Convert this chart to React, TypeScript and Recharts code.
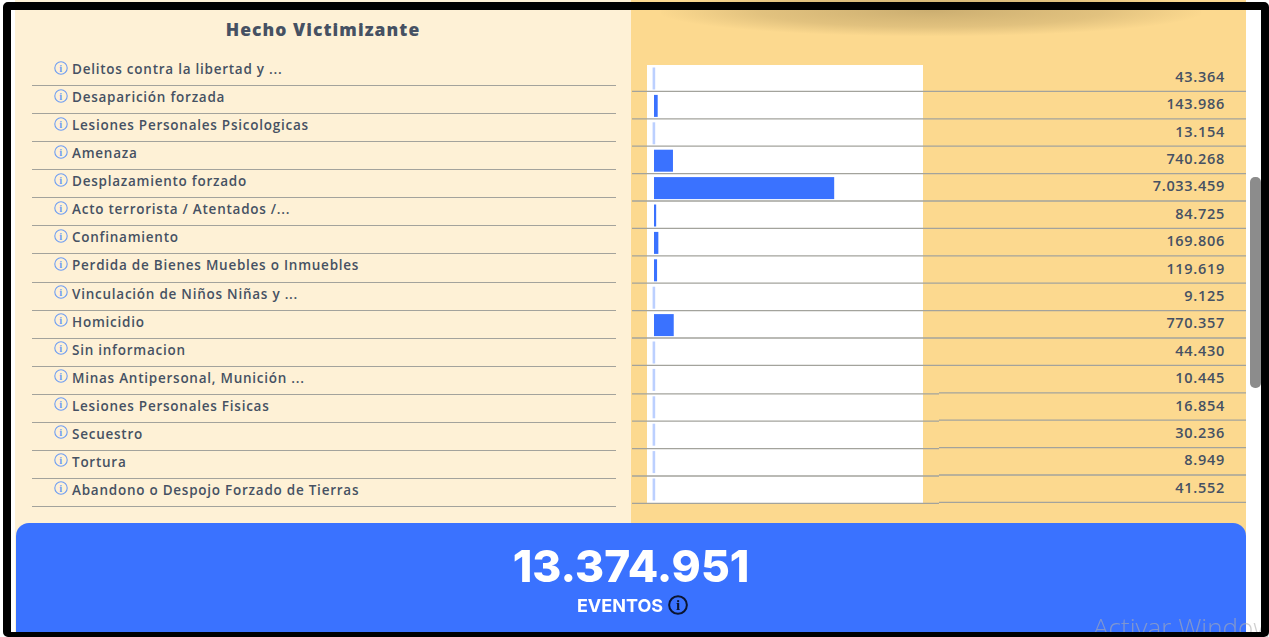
import { BarChart, Bar, XAxis, YAxis, Cell } from 'recharts'

const categories = [
  'Delitos contra la libertad y ...',
  'Desaparición forzada',
  'Lesiones Personales Psicologicas',
  'Amenaza',
  'Desplazamiento forzado',
  'Acto terrorista / Atentados /...',
  'Confinamiento',
  'Perdida de Bienes Muebles o Inmuebles',
  'Vinculación de Niños Niñas y ...',
  'Homicidio',
  'Sin informacion',
  'Minas Antipersonal, Munición ...',
  'Lesiones Personales Fisicas',
  'Secuestro',
  'Tortura',
  'Abandono o Despojo Forzado de Tierras',
]

const eventos = [
  43364, 143986, 13154, 740268, 7033459, 84725, 169806, 119619,
  9125, 770357, 44430, 10445, 16854, 30236, 8949, 41552,
]

const tableTitle = 'Hecho Victimizante'
const totalLabel = '13.374.951'
const totalUnit = 'EVENTOS'

const BLUE = '#3a72ff'
const LIGHT_BLUE = '#bcd0ff'
const LINE = '#a3a39c'
const TEXT = '#465163'
const FONT = '"Open Sans", sans-serif'
const SMALL_VALUE = 50000

const data = categories.map((name, i) => ({ name, eventos: eventos[i] }))

const formatNumber = (n: number) => String(n).replace(/\B(?=(\d{3})+$)/g, '.')

function InfoIcon({ size = 14, color = '#6f9df2', lift = 1.5, weight = 1.1 }: { size?: number; color?: string; lift?: number; weight?: number }) {
  return (
    <svg width={size} height={size} viewBox="0 0 14 14" style={{ flexShrink: 0, position: 'relative', top: -lift }}>
      <circle cx={7} cy={7} r={6.2} fill="none" stroke={color} strokeWidth={weight} />
      <text x={7} y={10.8} textAnchor="middle" fontSize={10.5} fontWeight={700} fontFamily="Liberation Serif" fill={color}>i</text>
    </svg>
  )
}

// value at the right of the row plus the divider under it
function ValueTick({ y, index }: any) {
  const shift = index >= 11 ? 1 : 0
  const lineY = y + 13.2
  return (
    <g>
      <line x1={0} x2={307} y1={lineY + shift} y2={lineY + shift} stroke={LINE} strokeWidth={1.3} />
      <line x1={307} x2={614} y1={lineY} y2={lineY} stroke={LINE} strokeWidth={1.3} />
      <text x={593} y={y + 3.5} textAnchor="end" fontSize={14.5} fontWeight={600} letterSpacing={0.7} fontFamily={FONT} fill={TEXT}>
        {formatNumber(eventos[index])}
      </text>
    </g>
  )
}

// the very small values sit a bit to the left of the baseline in the original
function EventBar({ x, y, width, height, fill, value }: any) {
  const v = Array.isArray(value) ? value[1] : value
  const small = v < SMALL_VALUE
  return <rect x={small ? x - 1.4 : x} y={y} width={small ? 2.6 : width} height={height} fill={fill} />
}

export default function App() {
  return (
    <div style={{ position: 'absolute', left: 0, top: 0, width: 1269, height: 637, overflow: 'hidden', background: '#fff' }}>
      <style>{'body{margin:0}'}</style>

      <div style={{ position: 'absolute', inset: 0, filter: 'blur(0.4px)' }}>
        {/* Column backgrounds */}
        <div style={{ position: 'absolute', left: 15, top: 0, width: 616, height: 637, background: '#fef1d6' }} />
        <div style={{ position: 'absolute', left: 631, top: 0, width: 615, height: 637, background: '#fcd98f', overflow: 'hidden' }}>
          <div style={{
            position: 'absolute', left: 30, top: -14, width: 540, height: 50,
            background: 'radial-gradient(ellipse at center, rgba(120,100,60,.36) 0%, rgba(120,100,60,.2) 45%, rgba(120,100,60,0) 72%)',
          }} />
        </div>

        {/* Left table */}
        <div style={{
          position: 'absolute', left: 15, top: 19, width: 616, textAlign: 'center',
          fontFamily: FONT, fontWeight: 800, fontSize: 17.5, lineHeight: '21px', color: TEXT, letterSpacing: 1.05,
        }}>
          {tableTitle}
        </div>
        <div style={{ position: 'absolute', left: 32, top: 58, width: 584 }}>
          {categories.map(c => (
            <div key={c} style={{
              boxSizing: 'border-box', height: 28.07, borderBottom: `1.3px solid ${LINE}`,
              display: 'flex', alignItems: 'center', paddingLeft: 22, paddingBottom: 5, gap: 4,
              fontFamily: FONT, fontWeight: 600, fontSize: 13.5, color: TEXT, letterSpacing: 0.75, whiteSpace: 'nowrap',
            }}>
              <InfoIcon />
              {c}
            </div>
          ))}
        </div>

        {/* Bars */}
        <div style={{ position: 'absolute', left: 647, top: 65, width: 276, height: 438, background: '#fff' }} />
        <div style={{ position: 'absolute', left: 632, top: 0 }}>
          <BarChart
            width={614}
            height={637}
            data={data}
            layout="vertical"
            margin={{ top: 64.5, right: 0, bottom: 134.1, left: 22 }}
          >
            <XAxis type="number" dataKey="eventos" domain={[0, 10500000]} hide />
            <YAxis
              type="category"
              dataKey="name"
              orientation="right"
              width={323}
              interval={0}
              axisLine={false}
              tickLine={false}
              tick={<ValueTick />}
            />
            <Bar dataKey="eventos" barSize={22} isAnimationActive={false} shape={<EventBar />}>
              {eventos.map((v, i) => (
                <Cell key={i} fill={v < SMALL_VALUE ? LIGHT_BLUE : BLUE} />
              ))}
            </Bar>
          </BarChart>
        </div>

        {/* Total */}
        <div style={{
          position: 'absolute', left: 16, top: 523, width: 1230, height: 114, background: BLUE,
          borderRadius: '13px 13px 0 0', textAlign: 'center', color: '#fff', fontFamily: 'Inter, sans-serif',
        }}>
          <div style={{ position: 'absolute', left: 0, right: 0, top: 17, fontSize: 44.3, lineHeight: '52px', fontWeight: 800 }}>
            {totalLabel}
          </div>
          <div style={{ position: 'absolute', left: 0, width: 1233, top: 72, display: 'flex', justifyContent: 'center', alignItems: 'center', gap: 5, fontSize: 18, lineHeight: '22px', fontWeight: 700 }}>
            {totalUnit}
            <InfoIcon size={20} color="#0b1530" lift={1} weight={1.4} />
          </div>
        </div>

        {/* Watermark */}
        <div style={{
          position: 'absolute', left: 1093, top: 611, fontFamily: FONT, fontWeight: 300, fontSize: 26,
          lineHeight: '32px', color: 'rgba(175,175,175,.6)', whiteSpace: 'nowrap',
        }}>
          Activar Windows
        </div>

        {/* Scrollbar */}
        <div style={{ position: 'absolute', left: 1250, top: 177, width: 11, height: 211, background: '#8c8c8c', borderRadius: 5 }} />
      </div>

      {/* Screenshot frame */}
      <div style={{
        position: 'absolute', left: 3, top: 2, width: 1266, height: 635, boxSizing: 'border-box',
        borderStyle: 'solid', borderColor: '#000', borderWidth: '8px 8px 5px 8px', borderRadius: 5,
      }} />
    </div>
  )
}
